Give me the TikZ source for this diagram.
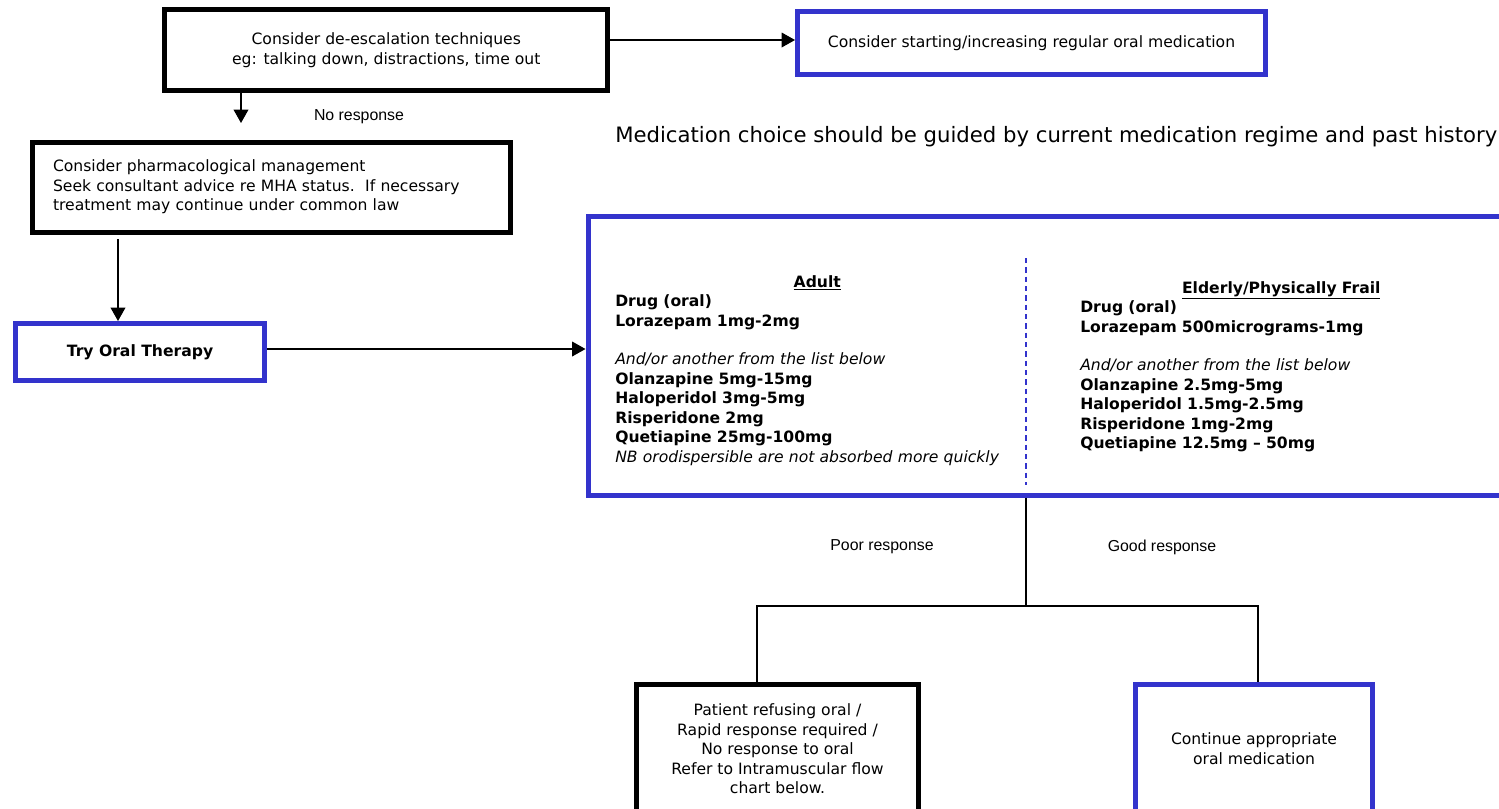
\documentclass[tikz,border=0pt]{standalone}
\usepackage{fontspec}
\setmainfont{DejaVu Sans}
\newfontfamily\arialfont{Liberation Sans}
\usetikzlibrary{arrows.meta}
\definecolor{boxblue}{RGB}{51,51,204}
\newcommand\boxfont{\fontsize{11.7pt}{14.6pt}\selectfont}
\newcommand\lblfont{\arialfont\fontsize{11.9pt}{14pt}\selectfont}

\tikzset{
  blackbox/.style={draw=black, line width=3.75pt, inner sep=0pt, font=\boxfont, align=center},
  bluebox/.style={draw=boxblue, line width=3.75pt, inner sep=0pt, font=\boxfont, align=center},
  coltext/.style={font=\boxfont, inner sep=0pt, anchor=north west},
  lbl/.style={font=\lblfont, inner sep=0pt},
  arr/.style={-{Triangle[length=10pt,width=11pt]}, line width=1pt},
  link/.style={line width=1pt},
}

\begin{document}
\begin{tikzpicture}[x=0.75pt,y=-0.75pt]
\useasboundingbox (0,0) rectangle (1499,808);

% Nodes
\node[blackbox, minimum width=331.9pt, minimum height=60.4pt] (deesc) at (386.25,50.25)
  {Consider de-escalation techniques\\eg: talking down, distractions, time out};
\node[bluebox, minimum width=351pt, minimum height=46.9pt] (regular) at (1031.5,43.25)
  {Consider starting/increasing regular oral medication};
\node[blackbox, align=left, text width=327pt, inner xsep=15.75pt, minimum height=67.5pt] (pharm) at (271,187)
  {Consider pharmacological management\\Seek consultant advice re MHA status.\ \ If necessary\\treatment may continue under common law};
\node[bluebox, minimum width=186.75pt, minimum height=42.75pt] (tryoral) at (140,352) {\textbf{Try Oral Therapy}};
\node[bluebox, minimum width=691.5pt, minimum height=209.25pt] (drugs) at (1049,355.5) {};
\node[blackbox, minimum width=211.5pt, minimum height=96.75pt] (refer) at (777.5,749)
  {Patient refusing oral /\\Rapid response required /\\No response to oral\\Refer to Intramuscular flow\\chart below.};
\node[bluebox, minimum width=177.75pt, minimum height=96.75pt] (cont) at (1254,748.5)
  {Continue appropriate\\oral medication};

\node[font=\fontsize{15.9pt}{19pt}\selectfont, inner sep=0pt, anchor=west] (guide) at (615,137)
  {Medication choice should be guided by current medication regime and past history};

% Drug lists
\node[coltext, text width=303pt] (adult) at (615,275)
  {{\centering\underline{\textbf{Adult}}\par}\raggedright
   \textbf{Drug (oral)}\\
   \textbf{Lorazepam 1mg-2mg}\\[14.6pt]
   \textit{And/or another from the list below}\\
   \textbf{Olanzapine 5mg-15mg}\\
   \textbf{Haloperidol 3mg-5mg}\\
   \textbf{Risperidone 2mg}\\
   \textbf{Quetiapine 25mg-100mg}\\
   \mbox{\textit{NB orodispersible are not absorbed more quickly}}};
\node[coltext, text width=301.5pt] (frail) at (1080,281)
  {{\centering\underline{\textbf{Elderly/Physically Frail}}\par}\raggedright
   \textbf{Drug (oral)}\\
   \textbf{Lorazepam 500micrograms-1mg}\\[14.6pt]
   \textit{And/or another from the list below}\\
   \textbf{Olanzapine 2.5mg-5mg}\\
   \textbf{Haloperidol 1.5mg-2.5mg}\\
   \textbf{Risperidone 1mg-2mg}\\
   \textbf{Quetiapine 12.5mg -- 50mg}};
\draw[boxblue, line width=1.1pt, dash pattern=on 4pt off 3pt] (1026,258) -- (1026,485);

% Labels
\node[lbl] (noresp) at (359,117) {No response};
\node[lbl] (poor) at (882,547) {Poor response};
\node[lbl] (good) at (1162,547) {Good response};

% Connect nodes
\coordinate (noresp_end) at (241,123);
\coordinate (pharm_out) at (118,239);
\coordinate (split) at (1026,606);
\draw[arr] (deesc.east |- 0,40) -- (regular.west |- 0,40);
\draw[arr] (deesc.south -| noresp_end) -- (noresp_end);
\draw[arr] (pharm_out) -- (tryoral.north -| pharm_out);
\draw[arr] (tryoral.east |- 0,349) -- (drugs.west |- 0,349);
\draw[link] (drugs.south -| split) -- (split);
\draw[link] (refer.north -| 757,0) |- (split) -| (cont.north -| 1258,0);

\end{tikzpicture}
\end{document}
